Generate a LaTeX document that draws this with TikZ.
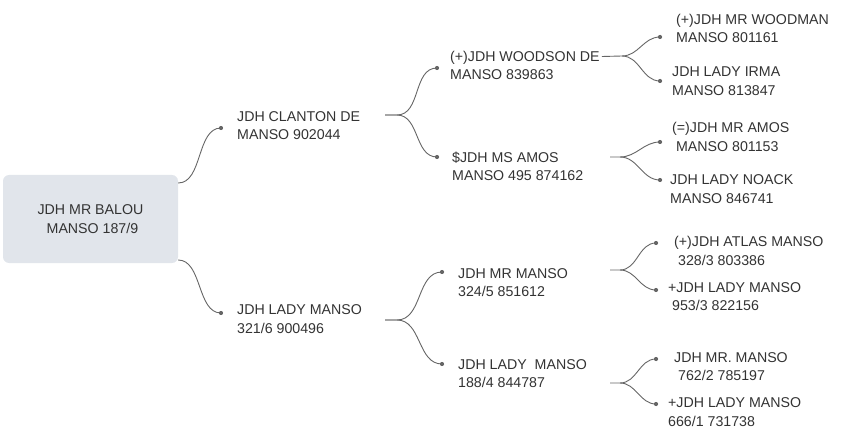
\documentclass[tikz,border=0pt]{standalone}
\usepackage{fontspec}
\setmainfont{Liberation Sans}
\definecolor{boxc}{RGB}{225,229,235}
\begin{document}
\begin{tikzpicture}[x=1pt,y=-1pt,
  lbl/.style={anchor=west,align=left,inner sep=0pt,text=black!80,font=\fontsize{14.2}{18.5}\selectfont},
  con/.style={draw=black!60,line width=0.9pt},
  dot/.style={circle,fill=black!60,inner sep=0pt,minimum size=4.2pt}]
\useasboundingbox (0,0) rectangle (844,441);
\node[fill=boxc,rounded corners=6pt,minimum width=175pt,minimum height=88pt,align=center,inner sep=0pt,text=black!80,font=\fontsize{14.2}{18.5}\selectfont] (root) at (90.5,219) {JDH MR BALOU\\\ MANSO 187/9};
% level 1
\node[lbl] (a) at (237,125.5) {JDH CLANTON DE\\MANSO 902044};
\node[lbl] (b) at (237,319) {JDH LADY MANSO\\321/6 900496};
% level 2
\node[lbl] (aa) at (450,65.5) {(+)JDH WOODSON DE\\MANSO 839863};
\node[lbl] (ab) at (452,166.5) {\$JDH MS AMOS\\MANSO 495 874162};
\node[lbl] (ba) at (458,282.5) {JDH MR MANSO\\324/5 851612};
\node[lbl] (bb) at (458,373.5) {JDH LADY\ \ MANSO\\188/4 844787};
% level 3
\node[lbl] (aaa) at (676,28.5) {(+)JDH MR WOODMAN\\MANSO 801161};
\node[lbl] (aab) at (672,81) {JDH LADY IRMA\\MANSO 813847};
\node[lbl] (aba) at (672,137) {(=)JDH MR AMOS\\\ MANSO 801153};
\node[lbl] (abb) at (670,189) {JDH LADY NOACK\\MANSO 846741};
\node[lbl] (baa) at (674,251) {(+)JDH ATLAS MANSO\\\ 328/3 803386};
\node[lbl] (bab) at (668,296.5) {+JDH LADY MANSO\\\ 953/3 822156};
\node[lbl] (bba) at (674,366.5) {JDH MR. MANSO\\\ 762/2 785197};
\node[lbl] (bbb) at (668,412) {+JDH LADY MANSO\\666/1 731738};
% dots
\foreach \n/\x/\y in {da/221/128, db/221/313, daa/437/68, dab/437/157, dba/442/272, dbb/442/364,
  daaa/660/37, daab/660/81, daba/660/142, dabb/660/180, dbaa/656/243, dbab/656/290, dbba/656/359, dbbb/656/404}
  \coordinate (\n) at (\x,\y);
\foreach \n in {da,db,daa,dab,dba,dbb,daaa,daab,daba,dabb,dbaa,dbab,dbba,dbbb}
  \node[dot] at (\n) {};
\draw[con] (root.east) ++(0,-36) to[out=0,in=180,looseness=0.9] (da);
\draw[con] (root.east) ++(0,41) to[out=0,in=180,looseness=0.9] (db);
\foreach \s/\y/\t in {a/115/daa, a/115/dab, b/320/dba, b/320/dbb}{
  \draw[con] (385,\y) -- (397,\y) to[out=0,in=180] (\t);}
\draw[con] (aa.east) ++(2,-9) -- (622,56) to[out=0,in=180] (daaa);
\draw[con] (622,56) to[out=0,in=180] (daab);
\foreach \y/\p/\q in {157/daba/dabb, 270/dbaa/dbab, 383/dbba/dbbb}{
  \draw[con] (610,\y) -- (620,\y) to[out=0,in=180] (\p);
  \draw[con] (620,\y) to[out=0,in=180] (\q);}
\end{tikzpicture}
\end{document}
